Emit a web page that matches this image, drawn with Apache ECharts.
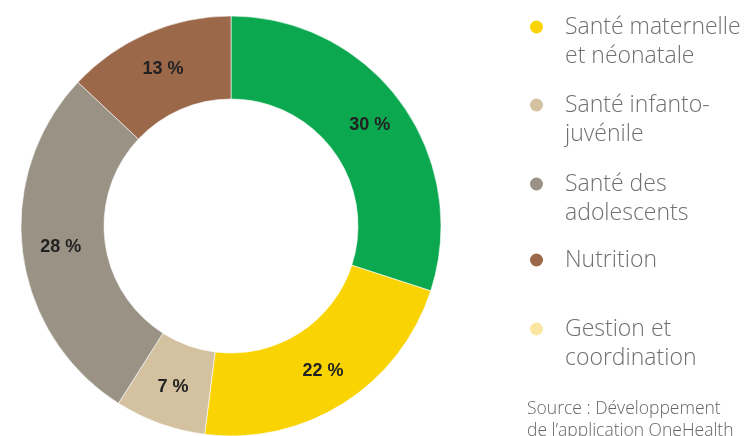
<!DOCTYPE html>
<html>
<head>
<meta charset="utf-8">
<script src="https://cdn.jsdelivr.net/npm/echarts@6/dist/echarts.min.js"></script>
<style>
  html, body { margin: 0; padding: 0; background: #fff; }
  #chart { width: 744px; height: 436px; }
</style>
</head>
<body>
<div id="chart"></div>
<script>
// Répartition par domaine (en %)
const categories = [
  'Santé maternelle et néonatale',
  'Santé infanto-juvénile',
  'Santé des adolescents',
  'Nutrition',
  'Gestion et coordination'
];
const values = [22, 7, 28, 13, 30];
// Libellés de légende, coupés sur deux lignes
const legendLines = [
  ['Santé maternelle', 'et néonatale'],
  ['Santé infanto-', 'juvénile'],
  ['Santé des', 'adolescents'],
  ['Nutrition'],
  ['Gestion et', 'coordination']
];
// Ordre des secteurs dans l'anneau (sens horaire depuis midi)
const ringOrder = [
  'Gestion et coordination',
  'Santé maternelle et néonatale',
  'Santé infanto-juvénile',
  'Santé des adolescents',
  'Nutrition'
];
const sliceColors = {
  'Santé maternelle et néonatale': '#F9D402',
  'Santé infanto-juvénile': '#D3C1A0',
  'Santé des adolescents': '#9A9284',
  'Nutrition': '#9C684A',
  'Gestion et coordination': '#0BA84F'
};
const legendColors = {
  'Santé maternelle et néonatale': '#F9D402',
  'Santé infanto-juvénile': '#D3C1A0',
  'Santé des adolescents': '#9A9284',
  'Nutrition': '#9C684A',
  'Gestion et coordination': '#FCE7A2'
};
const sourceLines = ['Source : Développement', 'de l\u2019application OneHealth'];

const chart = echarts.init(document.getElementById('chart'));

const valueOf = {};
categories.forEach((c, i) => { valueOf[c] = values[i]; });

const ringData = ringOrder.map(c => ({
  name: c, value: valueOf[c], itemStyle: { color: sliceColors[c] }
}));

const textFont = '"Open Sans", Roboto, sans-serif';
const legendCenters = [27, 105, 184, 260, 329];
const legends = categories.map((c, i) => {
  const lines = legendLines[i];
  // ligne vide en tête : la pastille s'aligne sur la première ligne
  const text = lines.length > 1 ? '\n' + lines.join('\n') : lines[0];
  const h = lines.length > 1 ? 87 : 29;
  return {
    data: [{ name: c, icon: 'circle', itemStyle: { color: legendColors[c] } }],
    left: 528,
    top: legendCenters[i] - h / 2,
    padding: 0,
    itemWidth: 15,
    itemHeight: 15,
    selectedMode: false,
    formatter: () => text,
    textStyle: {
      fontFamily: textFont,
      fontSize: 23,
      fontWeight: 300,
      color: '#6f6f6f',
      lineHeight: 29,
      padding: [0, 0, 0, 16]
    }
  };
});

chart.setOption({
  animation: false,
  backgroundColor: '#ffffff',
  legend: legends,
  graphic: [{
    type: 'text',
    left: 527,
    top: 398,
    style: {
      text: sourceLines.join('\n'),
      font: '300 17.5px ' + textFont,
      fill: '#666666',
      lineHeight: 22
    }
  }],
  series: [{
    type: 'pie',
    center: [231, 226],
    radius: [127, 210],
    startAngle: 90,
    clockwise: true,
    avoidLabelOverlap: false,
    itemStyle: { borderColor: '#ffffff', borderWidth: 0.6 },
    label: {
      show: true,
      position: 'inside',
      formatter: p => p.value + ' %',
      fontFamily: '"Liberation Sans", Arial, sans-serif',
      fontWeight: 'bold',
      fontSize: 18,
      color: '#222222'
    },
    labelLine: { show: false },
    emphasis: { disabled: true },
    data: ringData
  }]
});
</script>
</body>
</html>
